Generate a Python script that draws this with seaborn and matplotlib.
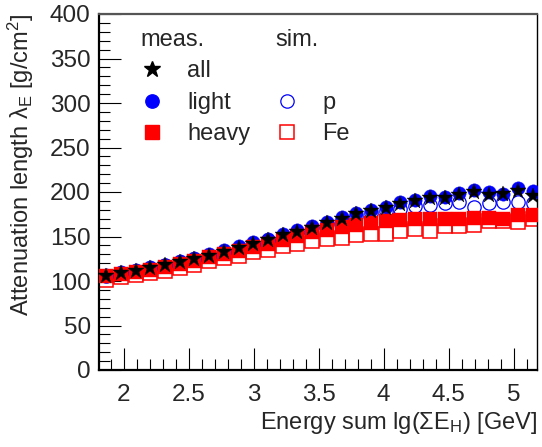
import numpy as np
import pandas as pd
import matplotlib
matplotlib.use("Agg")
import matplotlib.pyplot as plt
from matplotlib.lines import Line2D
from matplotlib.ticker import MultipleLocator
import seaborn as sns

# ---- data ----
energy = [1.865, 1.978, 2.091, 2.205, 2.318, 2.431, 2.544, 2.657, 2.771, 2.884,
          2.997, 3.110, 3.224, 3.337, 3.450, 3.563, 3.676, 3.790, 3.903, 4.016,
          4.129, 4.243, 4.356, 4.469, 4.582, 4.695, 4.809, 4.922, 5.035, 5.148]
meas_all = [106.0, 108.6, 111.6, 115.0, 118.0, 121.0, 124.4, 128.1, 132.2, 136.7,
            141.6, 146.1, 151.7, 155.4, 159.9, 165.2, 170.0, 174.9, 179.2, 182.0,
            187.0, 189.5, 193.0, 193.5, 197.0, 199.8, 196.5, 197.6, 201.2, 195.0]
meas_light = [107.3, 109.9, 112.6, 115.2, 118.5, 122.2, 126.1, 130.1, 135.0, 138.8,
              143.3, 147.0, 152.6, 157.5, 162.0, 166.5, 171.4, 176.0, 180.2, 183.7,
              188.6, 191.1, 195.0, 194.8, 198.9, 201.8, 199.6, 197.5, 204.6, 201.0]
meas_heavy = [105.3, 108.0, 110.5, 112.7, 116.1, 118.8, 122.1, 126.6, 130.3, 134.0,
              137.8, 141.6, 146.4, 150.2, 155.1, 157.7, 160.3, 162.6, 165.2, 167.1,
              168.9, 169.7, 169.8, 170.0, 169.8, 170.5, 171.3, 169.5, 174.2, 174.7]
sim_p = [106.0, 108.5, 111.5, 114.5, 117.5, 121.0, 124.5, 128.5, 132.5, 137.0,
         141.5, 146.0, 151.0, 155.5, 160.0, 164.5, 168.5, 172.5, 176.0, 179.0,
         181.0, 184.0, 185.4, 187.3, 189.1, 183.5, 187.3, 189.1, 189.1, 187.3]
sim_fe = [101.5, 104.5, 106.4, 108.6, 111.6, 115.0, 118.3, 122.1, 125.8, 128.4,
          132.2, 135.2, 139.7, 141.9, 145.3, 147.2, 148.3, 152.0, 153.1, 153.1,
          155.8, 158.0, 155.8, 161.4, 161.4, 163.3, 167.1, 167.1, 165.9, 169.3]

x_ticks = [2, 2.5, 3, 3.5, 4, 4.5, 5]
x_tick_labels = ["2", "2.5", "3", "3.5", "4", "4.5", "5"]
y_ticks = [0, 50, 100, 150, 200, 250, 300, 350, 400]

df = pd.DataFrame({"x": energy, "all": meas_all, "light": meas_light,
                   "heavy": meas_heavy, "p": sim_p, "Fe": sim_fe})

sns.set_theme(style="white")
plt.rcParams["font.family"] = ["Liberation Sans", "DejaVu Sans"]
plt.rcParams["mathtext.fontset"] = "custom"
plt.rcParams["mathtext.rm"] = "Liberation Sans"
plt.rcParams["mathtext.it"] = "Liberation Sans:italic"

FS = 17
TFS = 17.5
BLUE = (0, 0, 1)
RED = (1, 0, 0)
MS_STAR, MS_CIRC, MS_SQ = 12, 9.6, 10

fig = plt.figure(figsize=(5.42, 4.47), dpi=100)
ax = fig.add_axes([99 / 542, 77 / 447, 438 / 542, 356 / 447])

common = dict(linestyle="", estimator=None, sort=False, legend=False, ax=ax)
sns.lineplot(data=df, x="x", y="Fe", marker="s", markersize=MS_SQ,
             markerfacecolor="none", markeredgecolor=RED, markeredgewidth=1.1,
             zorder=2, **common)
sns.lineplot(data=df, x="x", y="p", marker="o", markersize=MS_CIRC,
             markerfacecolor="none", markeredgecolor=BLUE, markeredgewidth=0.9,
             zorder=3, **common)
sns.lineplot(data=df, x="x", y="light", marker="o", markersize=MS_CIRC,
             markerfacecolor=BLUE, markeredgecolor=BLUE, markeredgewidth=0.3,
             zorder=4, **common)
sns.lineplot(data=df, x="x", y="heavy", marker="s", markersize=MS_SQ,
             markerfacecolor=RED, markeredgecolor=RED, markeredgewidth=0.3,
             zorder=5, **common)
sns.lineplot(data=df, x="x", y="all", marker="*", markersize=MS_STAR,
             markerfacecolor="black", markeredgecolor="black", markeredgewidth=0.3,
             zorder=6, **common)

ax.set_xlim(1.81, 5.18)
ax.set_ylim(0, 400)
ax.set_xticks(x_ticks)
ax.set_xticklabels(x_tick_labels)
ax.set_yticks(y_ticks)
ax.xaxis.set_minor_locator(MultipleLocator(0.1))
ax.yaxis.set_minor_locator(MultipleLocator(10))
ax.tick_params(axis="both", which="major", direction="in", length=15.5, width=0.8,
               labelsize=TFS, color="black", bottom=True, left=True, top=False, right=False)
ax.tick_params(axis="both", which="minor", direction="in", length=7.8, width=0.8,
               color="black", bottom=True, left=True, top=False, right=False)
ax.tick_params(axis="x", which="major", pad=10)
ax.tick_params(axis="y", which="major", pad=6)

for side, lw, col in [("left", 1.6, "black"), ("bottom", 1.6, "black"),
                      ("top", 1.6, "#555555"), ("right", 1.0, "black")]:
    ax.spines[side].set_visible(True)
    ax.spines[side].set_linewidth(lw)
    ax.spines[side].set_color(col)
ax.grid(False)

ax.set_xlabel("Energy sum lg(\u03a3E$_\\mathregular{H}$) [GeV]", fontsize=FS)
ax.xaxis.set_label_coords(1.0, -0.112)
ax.xaxis.label.set_horizontalalignment("right")
ax.xaxis.label.set_verticalalignment("top")
ax.set_ylabel("Attenuation length \u03bb$_\\mathregular{E}$ [g/cm$^\\mathregular{2}$]",
              fontsize=FS)
ax.yaxis.set_label_coords(-0.178, 1.0)
ax.yaxis.label.set_verticalalignment("center")
ax.yaxis.label.set_horizontalalignment("right")

h_all = Line2D([], [], ls="", marker="*", ms=MS_STAR, mfc="black", mec="black")
h_light = Line2D([], [], ls="", marker="o", ms=MS_CIRC, mfc=BLUE, mec=BLUE)
h_heavy = Line2D([], [], ls="", marker="s", ms=MS_SQ, mfc=RED, mec=RED)
h_blank = Line2D([], [], ls="", marker="")
h_p = Line2D([], [], ls="", marker="o", ms=MS_CIRC, mfc="none", mec=BLUE, mew=0.9)
h_fe = Line2D([], [], ls="", marker="s", ms=MS_SQ, mfc="none", mec=RED, mew=1.1)

leg_kw = dict(frameon=False, fontsize=FS, title_fontsize=FS, loc="upper left",
              handlelength=1.0, handletextpad=1.0, labelspacing=0.4,
              borderpad=0, borderaxespad=0, alignment="left")
leg1 = ax.legend([h_all, h_light, h_heavy], ["all", "light", "heavy"],
                 title="meas.", bbox_to_anchor=(0.094, 0.958), **leg_kw)
ax.add_artist(leg1)
leg2 = ax.legend([h_blank, h_p, h_fe], ["", "p", "Fe"],
                 title="sim.", bbox_to_anchor=(0.402, 0.958), **leg_kw)

fig.savefig("out.png", dpi=100)
